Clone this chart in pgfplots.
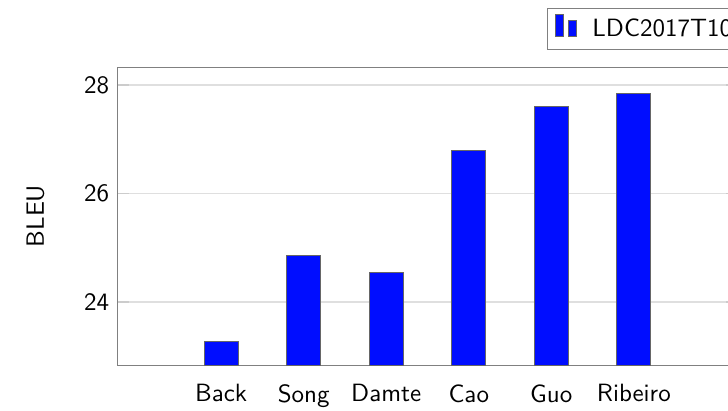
\documentclass[border=0pt]{standalone}
\usepackage{fontspec}
\renewcommand{\familydefault}{\sfdefault}
\usepackage{pgfplots}
\pgfplotsset{compat=1.18}
\begin{document}
\begin{tikzpicture}
\begin{axis}[
  scale only axis,
  width=247.6pt, height=119.2pt,
  ybar, bar width=13.6pt,
  xmin=-1.25, xmax=6.25,
  ymin=22.84, ymax=28.33,
  xtick={0,1,2,3,4,5},
  xticklabels={Back,Song,Damte,Cao,Guo,Ribeiro},
  xtick style={draw=none},
  ytick={24,26,28},
  ylabel={BLEU},
  ylabel shift=9pt,
  ymajorgrids,
  grid style={gray!25, line width=0.6pt},
  axis line style={gray},
  ytick style={gray!40, line width=0.6pt},
  /pgf/number format/assume math mode=true,
  tick label style={font=\sffamily},
  legend style={at={(1.013,1.198)}, anchor=north east, draw=gray, font=\sffamily},
  legend image code/.code={%
    \draw[#1] (0pt,-3pt) rectangle (3.2pt,6pt);
    \draw[#1] (5.2pt,-3pt) rectangle (8.4pt,3.5pt);
    \path (12.4pt,0pt);},
]
\addplot[fill=blue!95!cyan, draw=black!60] coordinates {
 (0,23.28) (1,24.86) (2,24.55) (3,26.79) (4,27.60) (5,27.85)};
\addlegendentry{LDC2017T10}
\end{axis}
\pgfresetboundingbox
\useasboundingbox (-47.2pt,-18pt) rectangle (244pt,146pt);
\end{tikzpicture}
\end{document}
